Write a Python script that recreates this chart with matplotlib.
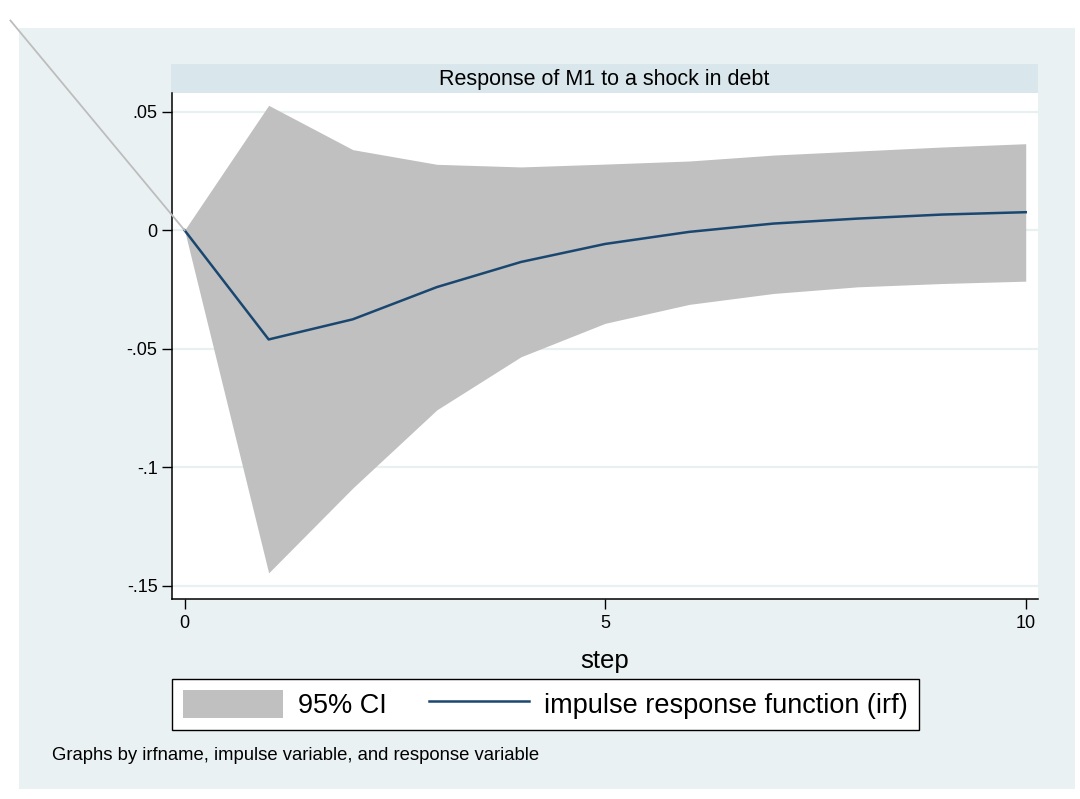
import matplotlib
matplotlib.use("Agg")
import matplotlib.pyplot as plt
from matplotlib.patches import Rectangle, Patch
from matplotlib.lines import Line2D

plt.rcParams['font.family'] = ['Liberation Sans', 'DejaVu Sans']

# data
steps = [0, 1, 2, 3, 4, 5, 6, 7, 8, 9, 10]
irf = [0.0, -0.0461, -0.0376, -0.0240, -0.0134, -0.0058, -0.0007, 0.0028, 0.0049, 0.0066, 0.0076]
ci_upper = [0.0, 0.0527, 0.0340, 0.0278, 0.0267, 0.0279, 0.0292, 0.0317, 0.0334, 0.0351, 0.0365]
ci_lower = [0.0, -0.1446, -0.1088, -0.0758, -0.0534, -0.0393, -0.0313, -0.0267, -0.0239, -0.0225, -0.0215]
yticks = [0.05, 0, -0.05, -0.1, -0.15]
ytick_labels = ['.05', '0', '-.05', '-.1', '-.15']
xticks = [0, 5, 10]
# stray grey segment that runs off into the corner
stray_x = [-2.07, 0]
stray_y = [0.0885, 0]

W, H = 1080, 799
outer_bg = '#eaf1f3'
strip_bg = '#d9e6eb'
grid_c = '#e8f0f2'
ci_c = '#c0c0c0'
navy = '#1a476f'

fig = plt.figure(figsize=(W / 100, H / 100), dpi=100, facecolor='white')

# graph region background (behind the axes)
fig.patches.append(Rectangle((19 / W, 1 - 789 / H), (1075 - 19) / W, (789 - 28) / H,
                             transform=fig.transFigure, facecolor=outer_bg, edgecolor='none', zorder=-3))
# by-title strip
fig.patches.append(Rectangle((171 / W, 1 - 93 / H), (1038 - 171) / W, (93 - 64) / H,
                             transform=fig.transFigure, facecolor=strip_bg, edgecolor='none', zorder=-2))
fig.text((171 + 1038) / 2 / W, 1 - 80 / H, 'Response of M1 to a shock in debt',
         ha='center', va='center', fontsize=15.5, color='black')

ax = fig.add_axes([171.5 / W, 1 - 598.7 / H, (1038 - 171.5) / W, (598.7 - 93) / H])
ax.set_facecolor('white')
ax.set_xlim(-0.155, 10.146)
ax.set_ylim(-0.1555, 0.0579)

for yv in yticks:
    ax.axhline(yv, color=grid_c, lw=1.6, zorder=1)

ax.fill_between(steps, ci_lower, ci_upper, color=ci_c, lw=0, zorder=2)
ax.plot(steps, irf, color=navy, lw=1.8, zorder=3)
ax.plot(stray_x, stray_y, color='#bdbdbd', lw=1.3, clip_on=False, zorder=4)

ax.set_yticks(yticks)
ax.set_yticklabels(ytick_labels)
ax.set_xticks(xticks)
ax.tick_params(axis='both', length=7, width=1, color='black', labelsize=13, pad=3)
ax.tick_params(axis='x', pad=5)

for side in ['top', 'right']:
    ax.spines[side].set_visible(False)
for side in ['left', 'bottom']:
    ax.spines[side].set_linewidth(1.1)

ax.set_xlabel('step', fontsize=18.5, labelpad=12)

handles = [Patch(facecolor=ci_c, edgecolor='none'),
           Line2D([0], [0], color=navy, lw=1.8)]
leg = fig.legend(handles, ['95% CI', 'impulse response function (irf)'],
                 loc='upper left', bbox_to_anchor=(172 / W, 1 - 679 / H),
                 ncol=2, fontsize=19.5, frameon=True, fancybox=False, framealpha=1,
                 handlelength=3.7, handleheight=1.2, handletextpad=0.55,
                 columnspacing=1.57, borderpad=0.4, borderaxespad=0)
leg.get_frame().set_edgecolor('black')
leg.get_frame().set_linewidth(1.0)
leg.get_frame().set_facecolor('white')

fig.text(52 / W, 1 - 755 / H, 'Graphs by irfname, impulse variable, and response variable',
         ha='left', va='center', fontsize=13.3, color='black')

fig.savefig('out.png', dpi=100, facecolor=fig.get_facecolor())
